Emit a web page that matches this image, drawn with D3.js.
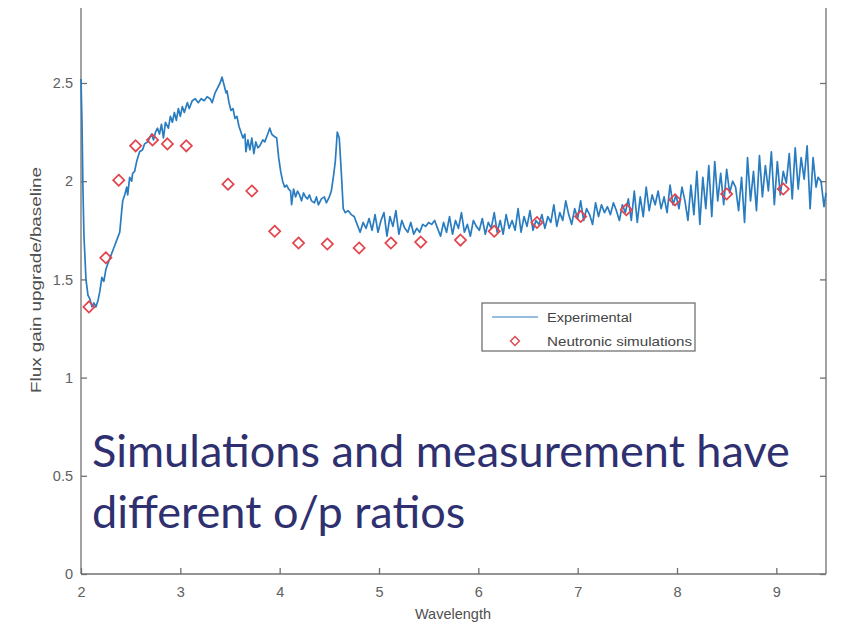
<!DOCTYPE html>
<html><head><meta charset="utf-8">
<script src="https://cdn.jsdelivr.net/npm/d3@7"></script>
<style>body{margin:0;background:#fff}svg{display:block}</style>
</head><body><svg id="c" width="843" height="627"></svg>
<script>
const expX = [2.00,2.01,2.02,2.03,2.05,2.07,2.09,2.11,2.13,2.15,2.17,2.19,2.21,2.23,2.25,2.27,2.30,2.33,2.36,2.39,2.41,2.42,2.44,2.46,2.47,2.49,2.51,2.52,2.54,2.56,2.59,2.62,2.64,2.67,2.69,2.71,2.73,2.75,2.77,2.79,2.81,2.83,2.85,2.88,2.90,2.92,2.94,2.96,2.98,3.00,3.02,3.04,3.07,3.09,3.12,3.15,3.18,3.21,3.24,3.27,3.30,3.32,3.35,3.37,3.40,3.42,3.44,3.46,3.47,3.49,3.51,3.53,3.55,3.57,3.59,3.61,3.63,3.65,3.66,3.68,3.70,3.72,3.74,3.76,3.78,3.80,3.83,3.85,3.88,3.90,3.92,3.94,3.97,3.99,4.01,4.03,4.05,4.07,4.09,4.11,4.12,4.14,4.16,4.18,4.20,4.22,4.24,4.26,4.28,4.30,4.32,4.35,4.37,4.39,4.42,4.45,4.47,4.50,4.52,4.54,4.56,4.58,4.60,4.62,4.64,
4.66,4.69,4.72,4.75,4.78,4.81,4.84,4.87,4.90,4.93,4.96,4.99,5.02,5.05,5.08,5.11,5.14,5.17,5.20,5.23,5.26,5.29,5.32,5.35,5.38,5.41,5.44,5.47,5.50,5.53,5.56,
5.59,5.62,5.65,5.68,5.71,5.74,5.77,5.80,5.83,5.86,5.89,5.92,5.95,5.98,6.01,6.04,6.07,6.10,6.13,6.16,6.19,6.22,6.25,6.28,6.31,6.34,6.37,6.40,6.43,6.46,6.49,6.52,6.55,6.58,6.61,6.64,6.67,6.70,6.73,6.76,6.79,6.82,6.85,6.88,
6.91,6.94,6.97,7.00,7.03,7.06,7.09,7.12,7.15,7.18,7.21,7.24,7.27,7.30,7.33,7.36,7.39,7.42,7.45,7.48,7.51,7.54,7.57,7.60,7.63,7.66,7.69,7.72,7.75,7.78,7.81,7.84,7.87,7.90,7.93,7.96,7.99,8.02,8.05,
8.08,8.11,8.14,8.17,8.20,8.23,8.26,8.29,8.32,8.35,8.38,8.41,8.44,8.47,8.50,8.53,8.56,8.59,8.62,8.65,8.68,8.71,8.74,8.77,8.80,8.83,8.86,8.89,8.92,8.95,8.98,9.01,9.04,9.07,9.10,9.13,9.16,9.19,9.22,9.25,9.28,9.31,9.34,9.37,9.40,9.42,9.45,9.48,9.50];
const expY = [2.52,2.30,1.95,1.72,1.50,1.42,1.40,1.36,1.38,1.36,1.39,1.44,1.51,1.49,1.55,1.58,1.62,1.66,1.70,1.74,1.85,1.90,1.93,1.97,1.93,2.02,2.00,2.04,2.05,2.10,2.15,2.16,2.19,2.20,2.22,2.24,2.21,2.25,2.27,2.24,2.29,2.22,2.30,2.27,2.33,2.30,2.35,2.31,2.37,2.33,2.38,2.35,2.40,2.37,2.41,2.42,2.40,2.42,2.41,2.43,2.42,2.40,2.45,2.47,2.50,2.53,2.49,2.45,2.46,2.40,2.36,2.37,2.32,2.33,2.28,2.25,2.22,2.24,2.15,2.21,2.16,2.22,2.14,2.20,2.17,2.18,2.21,2.20,2.24,2.27,2.24,2.23,2.22,2.12,2.05,2.00,1.97,1.98,1.96,1.95,1.88,1.96,1.92,1.95,1.93,1.90,1.94,1.92,1.91,1.93,1.90,1.89,1.92,1.88,1.91,1.92,1.89,1.92,1.95,2.02,2.10,2.25,2.22,2.05,1.86,
1.84,1.85,1.83,1.82,1.78,1.74,1.79,1.76,1.81,1.75,1.83,1.74,1.80,1.84,1.72,1.82,1.77,1.85,1.73,1.80,1.76,1.74,1.79,1.73,1.76,1.74,1.78,1.77,1.79,1.78,1.80,
1.76,1.72,1.79,1.74,1.82,1.73,1.80,1.76,1.84,1.74,1.78,1.72,1.80,1.77,1.75,1.81,1.73,1.79,1.76,1.84,1.74,1.80,1.73,1.83,1.76,1.80,1.75,1.86,1.74,1.82,1.77,1.85,1.75,1.80,1.78,1.83,1.76,1.82,1.79,1.88,1.77,1.84,1.80,1.90,
1.83,1.78,1.86,1.81,1.90,1.80,1.86,1.83,1.78,1.89,1.82,1.88,1.84,1.87,1.83,1.89,1.85,1.80,1.88,1.84,1.91,1.80,1.95,1.79,1.92,1.82,1.97,1.85,1.93,1.88,1.95,1.86,1.92,1.84,1.98,1.88,1.93,1.86,1.97,
1.90,1.80,1.98,1.83,2.05,1.78,2.02,1.86,2.08,1.82,2.10,1.90,2.04,1.88,2.06,1.94,2.00,1.97,1.85,2.02,1.79,2.12,1.90,2.05,1.85,2.13,1.92,2.08,1.95,2.15,1.88,2.10,1.93,2.05,1.99,2.14,1.91,2.17,1.96,2.12,2.01,2.18,1.86,2.12,1.97,2.02,2.00,1.87,1.94];
const simX = [2.08,2.25,2.38,2.55,2.72,2.87,3.06,3.48,3.72,3.95,4.19,4.48,4.80,5.12,5.42,5.82,6.16,6.59,7.03,7.49,7.98,8.50,9.07];
const simY = [1.36,1.61,2.005,2.18,2.21,2.19,2.18,1.985,1.95,1.745,1.685,1.68,1.66,1.685,1.69,1.70,1.745,1.79,1.82,1.855,1.905,1.935,1.96];
const xTicks = [2,3,4,5,6,7,8,9];
const yTicks = [0,0.5,1,1.5,2,2.5];
const legendLabels = ["Experimental","Neutronic simulations"];
const overlayLines = ["Simulations and measurement have","different o/p ratios"];

const svg = d3.select("#c");
const L=81, R=826, B=574, T=8;
const x = d3.scaleLinear().domain([2,9.5]).range([L,R]);
const y = d3.scaleLinear().domain([0,2.5]).range([B,83]);
const axisCol="#707070", textCol="#606060";

svg.append("line").attr("x1",L).attr("x2",L).attr("y1",T).attr("y2",B).attr("stroke",axisCol).attr("stroke-width",1.3);
svg.append("line").attr("x1",R).attr("x2",R).attr("y1",T).attr("y2",B).attr("stroke",axisCol).attr("stroke-width",1.3);
svg.append("line").attr("x1",L).attr("x2",R).attr("y1",B).attr("y2",B).attr("stroke",axisCol).attr("stroke-width",1.3);

const fontF = "Liberation Sans, Arial, sans-serif";
const xAxis = svg.append("g").attr("transform",`translate(0,${B})`)
  .call(d3.axisBottom(x).tickValues(xTicks).tickSize(-6).tickPadding(13).tickFormat(d3.format("d")));
const yAxis = svg.append("g").attr("transform",`translate(${L},0)`)
  .call(d3.axisLeft(y).tickValues(yTicks).tickSize(-6).tickPadding(8).tickFormat(d=>String(d)));
const yAxisR = svg.append("g").attr("transform",`translate(${R},0)`)
  .call(d3.axisRight(y).tickValues(yTicks).tickSize(-6).tickFormat(""));
[xAxis,yAxis,yAxisR].forEach(g=>{
  g.select(".domain").remove();
  g.selectAll(".tick line").attr("stroke",axisCol).attr("stroke-width",1.3);
  g.selectAll(".tick text").attr("fill",textCol).attr("font-family",fontF).attr("font-size",14.5);
});

svg.append("text").attr("x",453).attr("y",619).attr("text-anchor","middle")
  .attr("font-family",fontF).attr("font-size",14.5).attr("fill","#505050").text("Wavelength");
svg.append("text").attr("transform",`translate(41,280) rotate(-90)`).attr("text-anchor","middle")
  .attr("font-family",fontF).attr("font-size",15).attr("fill","#505050")
  .attr("textLength",226).attr("lengthAdjust","spacingAndGlyphs").text("Flux gain upgrade/baseline");

const pts = expX.map((v,i)=>[v,expY[i]]);
const lineCol="#2a7cc0", simCol="#e2444c";
svg.append("path").datum(pts).attr("fill","none").attr("stroke",lineCol).attr("stroke-width",1.7)
  .attr("stroke-linejoin","round")
  .attr("d",d3.line().x(d=>x(d[0])).y(d=>y(d[1])));

const diamond = d3.symbol().type(d3.symbolDiamond2).size(80);
svg.append("g").selectAll("path").data(simX.map((v,i)=>[v,simY[i]])).join("path")
  .attr("transform",d=>`translate(${x(d[0])},${y(d[1])})`)
  .attr("d",diamond).attr("fill","none").attr("stroke",simCol).attr("stroke-width",1.7);

const lg = svg.append("g");
lg.append("rect").attr("x",482).attr("y",303).attr("width",213).attr("height",48)
  .attr("fill","#fff").attr("stroke","#666").attr("stroke-width",1.2);
lg.append("line").attr("x1",492).attr("x2",538).attr("y1",317).attr("y2",317).attr("stroke",lineCol).attr("stroke-width",1.2);
lg.append("path").attr("transform","translate(515,341)").attr("d",d3.symbol().type(d3.symbolDiamond2).size(50)).attr("fill","none").attr("stroke",simCol).attr("stroke-width",1.4);
const legW = [85,145];
legendLabels.forEach((t,i)=>lg.append("text").attr("x",547).attr("y",322+i*24).attr("font-family",fontF)
  .attr("font-size",12).attr("fill","#444").attr("textLength",legW[i]).attr("lengthAdjust","spacingAndGlyphs").text(t));

const ov = svg.append("g");
overlayLines.forEach((t,i)=>{
  const tx = ov.append("text").attr("x",92).attr("y",467+i*61).attr("font-family","Lato, 'Open Sans', sans-serif")
    .attr("font-size",40).attr("fill","#2f3070").text(t);
  if(i===0){
    const w = tx.node().getComputedTextLength();
    ov.attr("data-fs", 40*698/w);
  }
});
const fs = +ov.attr("data-fs");
ov.selectAll("text").attr("font-size",fs);
</script></body></html>
